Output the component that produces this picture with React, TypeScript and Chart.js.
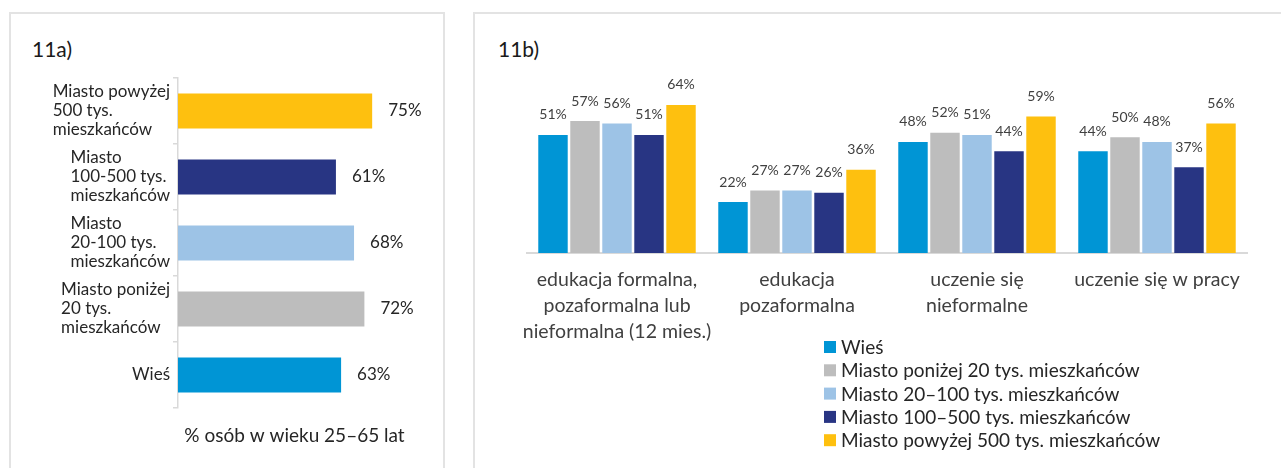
import React, { useEffect, useRef } from 'react';
import { Chart, registerables } from 'chart.js';

Chart.register(...registerables);

const FONT = 'Lato, "Open Sans", sans-serif';

// ---- 11a) data ----
const leftCategories: string[][] = [
  ['Miasto powyżej', '500 tys.', 'mieszkańców'],
  ['Miasto', '100-500 tys.', 'mieszkańców'],
  ['Miasto', '20-100 tys.', 'mieszkańców'],
  ['Miasto poniżej', '20 tys.', 'mieszkańców'],
  ['Wieś'],
];
const leftValues = [75, 61, 68, 72, 63];
const leftColors = ['#FEC00F', '#283583', '#9DC3E6', '#BDBDBD', '#0095D5'];
const leftAxisTitle = '% osób w wieku 25–65 lat';

// ---- 11b) data ----
const rightCategories: string[][] = [
  ['edukacja formalna,', 'pozaformalna lub', 'nieformalna (12 mies.)'],
  ['edukacja', 'pozaformalna'],
  ['uczenie się', 'nieformalne'],
  ['uczenie się w pracy'],
];
const seriesNames = [
  'Wieś',
  'Miasto poniżej 20 tys. mieszkańców',
  'Miasto 20–100 tys. mieszkańców',
  'Miasto 100–500 tys. mieszkańców',
  'Miasto powyżej 500 tys. mieszkańców',
];
const wiesValues = [51, 22, 48, 44];
const ponizej20Values = [57, 27, 52, 50];
const m20to100Values = [56, 27, 51, 48];
const m100to500Values = [51, 26, 44, 37];
const powyzej500Values = [64, 36, 59, 56];
const seriesColors = ['#0095D5', '#BDBDBD', '#9DC3E6', '#283583', '#FEC00F'];

const leftPlugin = {
  id: 'leftLabels',
  afterDraw(chart: any) {
    const ctx = chart.ctx as CanvasRenderingContext2D;
    const yScale = chart.scales.y;
    const area = chart.chartArea;
    ctx.save();
    ctx.font = `17px ${FONT}`;
    ctx.fillStyle = '#262626';
    ctx.textBaseline = 'middle';
    ctx.textAlign = 'left';
    const lh = 19;
    (chart.data.labels as string[][]).forEach((lines, i) => {
      const cy = yScale.getPixelForValue(i);
      const maxW = Math.max(...lines.map((l) => ctx.measureText(l).width));
      const x0 = area.left - 8 - maxW;
      lines.forEach((l, j) => ctx.fillText(l, x0, cy + (j - (lines.length - 1) / 2) * lh));
    });
    const ds = chart.data.datasets[0];
    const meta = chart.getDatasetMeta(0);
    meta.data.forEach((bar: any, i: number) => {
      ctx.fillText(ds.data[i] + '%', bar.x + 16, bar.y);
    });
    ctx.restore();
  },
};

const rightPlugin = {
  id: 'rightLabels',
  afterDraw(chart: any) {
    const ctx = chart.ctx as CanvasRenderingContext2D;
    const area = chart.chartArea;
    ctx.save();
    ctx.font = `14px ${FONT}`;
    ctx.fillStyle = '#404040';
    ctx.textAlign = 'center';
    ctx.textBaseline = 'middle';
    chart.data.datasets.forEach((ds: any, di: number) => {
      const meta = chart.getDatasetMeta(di);
      meta.data.forEach((bar: any, i: number) => {
        ctx.fillText(ds.data[i] + '%', bar.x, bar.y - 20);
      });
    });
    // legend
    const lx = area.left + 297;
    const ly0 = area.bottom + 94;
    const step = 23.3;
    ctx.font = `19px ${FONT}`;
    ctx.textAlign = 'left';
    chart.data.datasets.forEach((ds: any, di: number) => {
      const y = ly0 + di * step;
      ctx.fillStyle = ds.backgroundColor;
      ctx.fillRect(lx, y - 6, 12, 12);
      ctx.fillStyle = '#262626';
      ctx.fillText(ds.label, lx + 17, y + 1);
    });
    ctx.restore();
  },
};

export default function App() {
  const leftRef = useRef<HTMLCanvasElement>(null);
  const rightRef = useRef<HTMLCanvasElement>(null);

  useEffect(() => {
    const c1 = new Chart(leftRef.current as HTMLCanvasElement, {
      type: 'bar',
      data: {
        labels: leftCategories as any,
        datasets: [
          {
            data: leftValues,
            backgroundColor: leftColors,
            barPercentage: 0.53,
            categoryPercentage: 1,
          },
        ],
      },
      options: {
        indexAxis: 'y',
        animation: false,
        responsive: false,
        devicePixelRatio: 1,
        layout: { padding: { top: 64, right: 29, left: 0, bottom: 0 } },
        plugins: { legend: { display: false }, tooltip: { enabled: false } },
        scales: {
          x: {
            min: 0,
            max: 90,
            ticks: { display: false },
            grid: { display: false, drawTicks: false },
            border: { display: false },
            title: {
              display: true,
              text: leftAxisTitle,
              color: '#262626',
              font: { family: FONT, size: 19 },
              padding: { top: 0, bottom: 17 },
            },
            afterFit: (s: any) => {
              s.height = 56;
            },
          },
          y: {
            ticks: { display: false },
            grid: {
              display: true,
              drawOnChartArea: false,
              drawTicks: true,
              tickLength: 5,
              color: '#d9d9d9',
              lineWidth: 1.5,
            },
            border: { display: true, color: '#d9d9d9', width: 1.5 },
            afterFit: (s: any) => {
              s.width = 166;
            },
          },
        },
      } as any,
      plugins: [leftPlugin],
    });

    const values = [wiesValues, ponizej20Values, m20to100Values, m100to500Values, powyzej500Values];
    const c2 = new Chart(rightRef.current as HTMLCanvasElement, {
      type: 'bar',
      data: {
        labels: rightCategories as any,
        datasets: values.map((v, i) => ({
          label: seriesNames[i],
          data: v,
          backgroundColor: seriesColors[i],
          barPercentage: 0.92,
          categoryPercentage: 0.889,
        })),
      },
      options: {
        animation: false,
        responsive: false,
        devicePixelRatio: 1,
        layout: { padding: { top: 77, right: 32, left: 50, bottom: 0 } },
        plugins: { legend: { display: false }, tooltip: { enabled: false } },
        scales: {
          x: {
            ticks: {
              color: '#404040',
              font: { family: FONT, size: 19.5, lineHeight: 26 / 19.5 },
              padding: 14,
              maxRotation: 0,
              autoSkip: false,
            },
            grid: { display: false, drawTicks: false },
            border: { display: true, color: '#d9d9d9', width: 2 },
            afterFit: (s: any) => {
              s.height = 211;
            },
          },
          y: {
            display: false,
            min: 0,
            max: 70,
          },
        },
      } as any,
      plugins: [rightPlugin],
    });

    return () => {
      c1.destroy();
      c2.destroy();
    };
  }, []);

  return (
    <div
      style={{
        position: 'absolute',
        left: 0,
        top: 0,
        width: 1281,
        height: 468,
        overflow: 'hidden',
        background: '#fff',
        fontFamily: FONT,
      }}
    >
      <div
        style={{
          position: 'absolute',
          left: 9,
          top: 12,
          width: 436,
          height: 480,
          border: '2px solid #e3e3e3',
          boxSizing: 'border-box',
        }}
      />
      <div
        style={{
          position: 'absolute',
          left: 473,
          top: 12,
          width: 840,
          height: 480,
          border: '2px solid #e3e3e3',
          boxSizing: 'border-box',
        }}
      />
      <div style={{ position: 'absolute', left: 32, top: 36, fontSize: 21, lineHeight: '25px', color: '#1a1a1a' }}>11a)</div>
      <div style={{ position: 'absolute', left: 498, top: 36, fontSize: 21, lineHeight: '25px', color: '#1a1a1a' }}>11b)</div>
      <canvas ref={leftRef} width={428} height={450} style={{ position: 'absolute', left: 12, top: 14 }} />
      <canvas ref={rightRef} width={802} height={450} style={{ position: 'absolute', left: 477, top: 14 }} />
    </div>
  );
}
